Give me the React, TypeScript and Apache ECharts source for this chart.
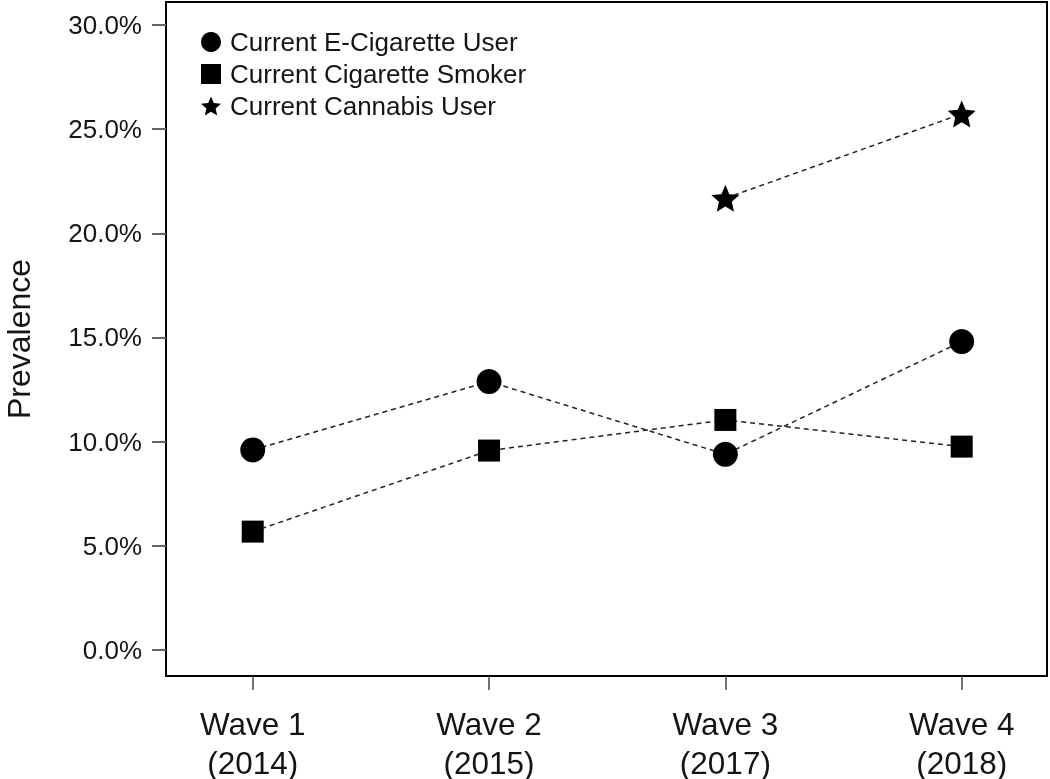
import React, { useEffect, useRef } from "react";
import * as echarts from "echarts";

const waves = ["Wave 1", "Wave 2", "Wave 3", "Wave 4"];
const years = ["2014", "2015", "2017", "2018"];
const eCigarette = [9.6, 12.88, 9.39, 14.8];
const cigarette = [5.68, 9.57, 11.04, 9.76];
const cannabis: (number | null)[] = [null, null, 21.68, 25.73];
const yTicks = [0, 5, 10, 15, 20, 25, 30];
const seriesNames = [
  "Current E-Cigarette User",
  "Current Cigarette Smoker",
  "Current Cannabis User",
];

function starPath(R: number, r: number) {
  const pts: string[] = [];
  for (let i = 0; i < 10; i++) {
    const rad = i % 2 === 0 ? R : r;
    const a = -Math.PI / 2 + (i * Math.PI) / 5;
    pts.push(`${(R + rad * Math.cos(a)).toFixed(2)},${(R + rad * Math.sin(a)).toFixed(2)}`);
  }
  return "path://M" + pts.join("L") + "Z";
}
const STAR = starPath(50, 23);

const toPairs = (arr: (number | null)[]) =>
  arr
    .map((v, i) => [i + 1, v] as [number, number | null])
    .filter((p) => p[1] !== null);

export default function App() {
  const ref = useRef<HTMLDivElement>(null);
  useEffect(() => {
    if (!ref.current) return;
    const chart = echarts.init(ref.current, undefined, { renderer: "svg" });
    const lineStyle = { color: "#222", width: 1.5, type: [5, 4] as number[] };
    const font = "Liberation Sans, Arial, sans-serif";
    const textColor = "#151515";
    chart.setOption({
      animation: false,
      textStyle: { fontFamily: font },
      grid: {
        left: 166,
        right: 3,
        top: 2,
        bottom: 103,
        containLabel: false,
        outerBoundsMode: "none",
        show: true,
        borderColor: "#000",
        borderWidth: 2,
        backgroundColor: "transparent",
      },
      legend: {
        orient: "vertical",
        left: 196,
        top: 24,
        itemWidth: 20,
        itemHeight: 20,
        itemGap: 6,
        textStyle: {
          fontSize: 26,
          color: textColor,
          fontFamily: font,
          padding: [0, 0, 0, 4],
        },
        data: [
          { name: seriesNames[0], icon: "circle" },
          { name: seriesNames[1], icon: "rect" },
          { name: seriesNames[2], icon: STAR },
        ],
      },
      xAxis: {
        type: "value",
        min: 0.633,
        max: 4.361,
        splitLine: { show: false },
        axisLine: { show: false, onZero: false },
        axisTick: {
          show: true,
          length: 14,
          lineStyle: { color: "#444", width: 1.5 },
          customValues: [1, 2, 3, 4],
        },
        axisLabel: {
          customValues: [1, 2, 3, 4],
          margin: 28,
          fontSize: 31.5,
          lineHeight: 39,
          color: textColor,
          fontFamily: font,
          formatter: (v: number) => {
            const i = Math.round(v) - 1;
            return `${waves[i]}\n(${years[i]})`;
          },
        },
      },
      yAxis: {
        type: "value",
        min: -1.25,
        max: 31.1,
        name: "Prevalence",
        nameLocation: "middle",
        nameGap: 131,
        nameRotate: 90,
        nameTextStyle: { fontSize: 32, color: textColor, fontFamily: font },
        splitLine: { show: false },
        axisLine: { show: false, onZero: false },
        axisTick: {
          show: true,
          length: 14,
          lineStyle: { color: "#666", width: 2 },
          customValues: yTicks,
        },
        axisLabel: {
          customValues: yTicks,
          margin: 24,
          fontSize: 26,
          color: textColor,
          fontFamily: font,
          formatter: (v: number) => v.toFixed(1) + "%",
        },
      },
      series: [
        {
          name: seriesNames[0],
          type: "line",
          data: toPairs(eCigarette),
          symbol: "circle",
          symbolSize: 25,
          itemStyle: { color: "#000" },
          lineStyle,
        },
        {
          name: seriesNames[1],
          type: "line",
          data: toPairs(cigarette),
          symbol: "rect",
          symbolSize: 22,
          itemStyle: { color: "#000" },
          lineStyle,
        },
        {
          name: seriesNames[2],
          type: "line",
          data: toPairs(cannabis),
          symbol: STAR,
          symbolSize: [28, 27],
          itemStyle: { color: "#000" },
          lineStyle,
        },
      ],
    });
    return () => chart.dispose();
  }, []);
  return (
    <div
      ref={ref}
      style={{ position: "fixed", left: 0, top: 0, width: 1050, height: 779 }}
    />
  );
}
